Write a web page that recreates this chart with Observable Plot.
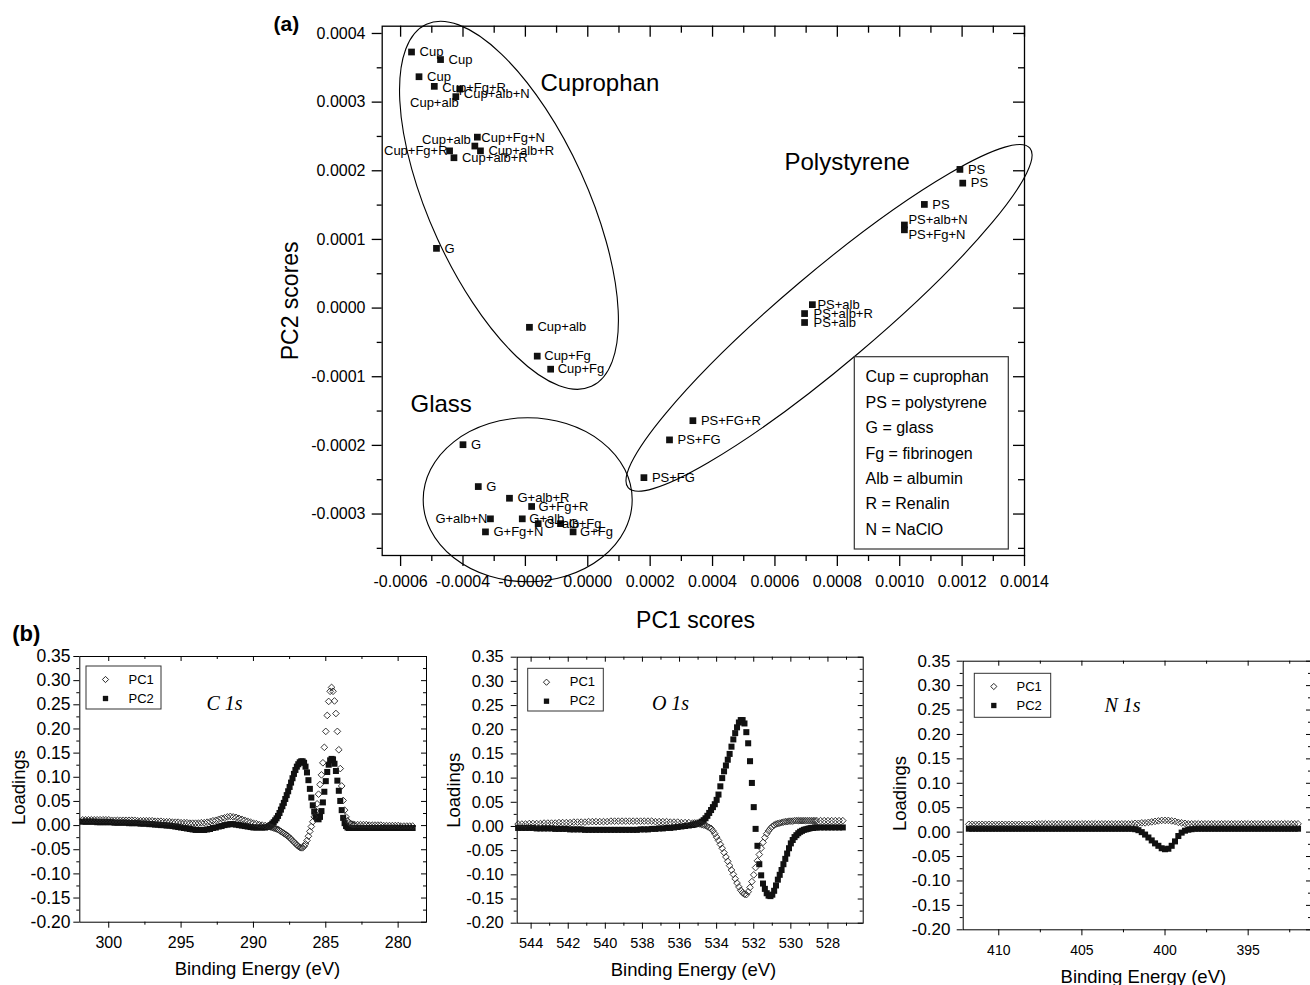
<!DOCTYPE html>
<html><head><meta charset="utf-8">
<script src="https://cdn.jsdelivr.net/npm/d3@7"></script>
<script src="https://cdn.jsdelivr.net/npm/@observablehq/plot@0.6"></script>
<style>
html,body{margin:0;padding:0;background:#fff;overflow:hidden;}
#fig{position:relative;width:1310px;height:985px;overflow:hidden;background:#fff;}
#fig svg{position:absolute;overflow:visible;}
</style></head><body><div id="fig"></div>
<script>
// ---------------- (a) PCA scores ----------------
const sampleLabels = ["Cup","Cup","Cup","Cup+Fg+R","Cup+alb+N","Cup+alb","Cup+Fg+N","Cup+alb","Cup+alb+R","Cup+Fg+R","Cup+alb+R","G","Cup+alb","Cup+Fg","Cup+Fg",
  "G","G","G+alb+R","G+Fg+R","G+alb+N","G+alb","G+alb","G+Fg","G+Fg","G+Fg+N",
  "PS","PS","PS","PS+alb+N","PS+Fg+N","PS+alb","PS+alb+R","PS+alb","PS+FG+R","PS+FG","PS+FG"];
const pc1Scores = [-0.000565,-0.000472,-0.000541,-0.000492,-0.000410,-0.000423,-0.000354,-0.000362,-0.000344,-0.000443,-0.000429,-0.000485,-0.000187,-0.000162,-0.000119,
  -0.000400,-0.000351,-0.000251,-0.000180,-0.000312,-0.000210,-0.000159,-0.000087,-0.000047,-0.000328,
  0.001193,0.001202,0.001079,0.001015,0.001015,0.000720,0.000695,0.000695,0.000337,0.000262,0.000180];
const pc2Scores = [0.000373,0.000362,0.000337,0.000323,0.000319,0.000308,0.000249,0.000236,0.000229,0.000229,0.000219,0.000087,-0.000028,-0.000070,-0.000089,
  -0.000199,-0.000260,-0.000277,-0.000289,-0.000307,-0.000307,-0.000314,-0.000314,-0.000326,-0.000326,
  0.000202,0.000182,0.000151,0.000121,0.000114,0.000005,-0.000008,-0.000021,-0.000164,-0.000192,-0.000247];
const clusterNames = ["Cuprophan","Polystyrene","Glass"];
const clusterCentrePC1 = [-0.000251, 0.000775, -0.000191];
const clusterCentrePC2 = [0.000149, -0.000015, -0.000280];
const abbreviations = ["Cup = cuprophan","PS = polystyrene","G = glass","Fg = fibrinogen","Alb = albumin","R = Renalin","N = NaClO"];
const pc1Ticks = [-0.0006,-0.0004,-0.0002,0,0.0002,0.0004,0.0006,0.0008,0.0010,0.0012,0.0014];
const pc1Minor = [-0.0005,-0.0003,-0.0001,0.0001,0.0003,0.0005,0.0007,0.0009,0.0011,0.0013];
const pc2Ticks = [-0.0003,-0.0002,-0.0001,0,0.0001,0.0002,0.0003,0.0004];
const pc2Minor = [-0.00035,-0.00025,-0.00015,-0.00005,0.00005,0.00015,0.00025,0.00035];

// ---------------- (b) loadings ----------------
const loadingTicks = [-0.20,-0.15,-0.10,-0.05,0,0.05,0.10,0.15,0.20,0.25,0.30,0.35];
const loadingMinor = [-0.175,-0.125,-0.075,-0.025,0.025,0.075,0.125,0.175,0.225,0.275,0.325];

const c1sEnergy = [...d3.range(301.8, 289.1, -0.2), ...d3.range(289.0, 282.95, -0.1), ...d3.range(282.8, 278.95, -0.2)];
const c1sPC1 = [
 .012,.012,.012,.012,.012,.012,.012,.012,.012,.012,
 .011,.011,.011,.011,.011,.011,.011,.011,.011,.010,
 .010,.010,.010,.010,.010,.009,.009,.009,.008,.008,
 .008,.007,.007,.007,.006,.006,.006,.005,.005,.005,
 .005,.006,.006,.007,.008,.010,.011,.013,.015,.016,
 .018,.019,.018,.017,.015,.013,.011,.009,.007,.005,
 .004,.002,.001,.000,
 -.001,-.002,-.003,-.004,-.005,-.006,-.007,-.008,-.010,-.012,
 -.014,-.016,-.018,-.020,-.022,-.025,-.028,-.031,-.034,-.037,
 -.040,-.043,-.045,-.046,-.046,-.043,-.038,-.031,-.022,-.012,
 -.002,.008,.018,.030,.045,.065,.085,.105,.130,.162,
 .195,.228,.257,.278,.286,.278,.258,.232,.195,.157,
 .118,.082,.052,.032,.018,.010,.006,.004,.003,.002,
 .002,
 .002,.002,.002,.002,.001,.001,.001,.001,.001,.000,
 .000,.000,.000,.000,.000,-.001,-.001,-.001,-.001,-.001];
const c1sPC2 = [
 .008,.008,.008,.008,.008,.007,.007,.007,.007,.007,
 .007,.006,.006,.006,.006,.006,.005,.005,.005,.005,
 .004,.004,.004,.003,.003,.002,.002,.001,.001,.000,
 .000,-.001,-.002,-.003,-.004,-.005,-.006,-.007,-.008,-.009,
 -.009,-.009,-.009,-.008,-.007,-.005,-.004,-.002,-.001,.001,
 .002,.003,.003,.002,.001,.000,-.001,-.002,-.003,-.004,
 -.004,-.004,-.004,-.004,
 -.003,-.001,.001,.004,.007,.011,.015,.020,.026,.033,
 .040,.047,.055,.063,.071,.080,.089,.098,.107,.115,
 .122,.127,.131,.133,.133,.130,.122,.110,.094,.076,
 .058,.042,.029,.019,.014,.013,.018,.030,.048,.070,
 .092,.111,.126,.135,.138,.137,.128,.113,.093,.072,
 .051,.032,.016,.005,-.001,-.004,-.005,-.005,-.005,-.005,
 -.005,
 -.005,-.005,-.005,-.005,-.005,-.005,-.005,-.005,-.005,-.005,
 -.005,-.005,-.005,-.005,-.005,-.005,-.005,-.005,-.005,-.005];

const o1sEnergy = [...d3.range(544.7, 535.2, -0.2), ...d3.range(535.2, 528.55, -0.1), ...d3.range(528.4, 527.1, -0.2)];
const o1sPC1 = [
 .005,.005,.005,.006,.006,.006,.006,.007,.007,.007,
 .007,.008,.008,.008,.008,.009,.009,.009,.009,.010,
 .010,.010,.010,.010,.010,.011,.011,.011,.011,.011,
 .011,.011,.011,.011,.011,.011,.011,.010,.010,.010,
 .010,.009,.009,.009,.008,.008,.008,.007,
 .007,.007,.006,.005,.004,.003,.002,.000,-.002,-.004,
 -.009,-.015,-.022,-.029,-.037,-.045,-.054,-.063,-.072,-.081,
 -.090,-.099,-.108,-.117,-.125,-.132,-.137,-.140,-.141,-.135,
 -.126,-.114,-.100,-.085,-.071,-.058,-.045,-.033,-.023,-.015,
 -.009,-.004,.000,.003,.005,.006,.007,.008,.009,.010,
 .010,.011,.011,.011,.012,.012,.012,.012,.012,.012,
 .012,.012,.012,.012,.012,.012,.012,
 .012,.012,.012,.012,.012,.012,.012];
const o1sPC2 = [
 -.003,-.003,-.003,-.003,-.003,-.004,-.004,-.004,-.004,-.004,
 -.005,-.005,-.005,-.005,-.006,-.006,-.006,-.006,-.007,-.007,
 -.007,-.007,-.007,-.007,-.007,-.007,-.007,-.007,-.007,-.007,
 -.007,-.007,-.007,-.006,-.006,-.006,-.005,-.005,-.004,-.004,
 -.003,-.003,-.002,-.001,.000,.001,.002,.003,
 .004,.005,.006,.008,.010,.013,.017,.022,.028,.034,
 .040,.046,.055,.066,.083,.100,.114,.126,.138,.150,
 .165,.180,.193,.205,.215,.220,.220,.213,.195,.172,
 .135,.090,.040,-.005,-.040,-.078,-.101,-.118,-.129,-.138,
 -.143,-.144,-.141,-.133,-.122,-.110,-.100,-.090,-.078,-.067,
 -.056,-.045,-.035,-.028,-.022,-.018,-.014,-.011,-.009,-.007,
 -.006,-.005,-.004,-.003,-.003,-.002,-.002,
 -.002,-.002,-.002,-.002,-.002,-.002,-.002];

const n1sEnergy = d3.range(411.8, 391.9, -0.2);
const n1sPC1 = [
 .016,.016,.016,.016,.016,.016,.016,.016,.016,.016,
 .016,.016,.016,.016,.016,.016,.016,.016,.016,.016,
 .017,.017,.017,.017,.017,.017,.017,.017,.017,.017,
 .017,.017,.017,.017,.017,.017,.017,.017,.017,.017,
 .017,.017,.017,.017,.017,.017,.017,.017,.017,
 .017,.018,.018,.019,.019,.020,.021,.022,.023,.024,
 .024,.024,.023,.022,.020,.019,.018,.017,.017,
 .017,.017,.017,.017,.017,.017,.017,.017,.017,.017,
 .017,.017,.017,.017,.017,.017,.017,.017,.017,.017,
 .017,.017,.017,.017,.017,.017,.017,.017,.017,.017,
 .017,.017];
const n1sPC2 = [
 .007,.007,.007,.007,.007,.007,.007,.007,.007,.007,
 .007,.007,.007,.007,.007,.007,.007,.007,.007,.007,
 .007,.007,.007,.007,.007,.007,.007,.007,.007,.007,
 .007,.007,.007,.007,.007,.007,.007,.007,.007,.007,
 .007,.007,.007,.007,.007,.007,.007,.007,.007,
 .007,.006,.004,.000,-.005,-.011,-.017,-.023,-.028,-.033,
 -.035,-.034,-.028,-.019,-.008,-.001,.003,.005,.006,
 .007,.007,.007,.007,.007,.007,.007,.007,.007,.007,
 .007,.007,.007,.007,.007,.007,.007,.007,.007,.007,
 .007,.007,.007,.007,.007,.007,.007,.007,.007,.007,
 .007,.007];

// ---------------- helpers ----------------
const SANS = "'Liberation Sans', Arial, Helvetica, sans-serif";
const SERIF = "'Liberation Serif', 'Times New Roman', serif";
const NS = "http://www.w3.org/2000/svg";
const fig = document.getElementById("fig");

function renderMark(draw) {
  return function (...args) {
    const scales = args.find(a => a && !Array.isArray(a) && typeof a.x === "function");
    const dims = args.find(a => a && typeof a === "object" && !Array.isArray(a) && "marginLeft" in a && "width" in a);
    const g = document.createElementNS(NS, "g");
    draw(g, scales, dims);
    return g;
  };
}
function el(tag, attrs) {
  const e = document.createElementNS(NS, tag);
  for (const k in attrs) e.setAttribute(k, attrs[k]);
  return e;
}
function place(svg, left, top) {
  svg.style.position = "absolute";
  svg.style.left = left + "px";
  svg.style.top = top + "px";
  fig.appendChild(svg);
}
function zip(E, V) {
  if (E.length !== V.length) console.error("length mismatch", E.length, V.length);
  const n = Math.min(E.length, V.length);
  return d3.range(n).map(i => ({e: E[i], v: V[i]}));
}
function ftext(str, o) {
  return Plot.text([str], Object.assign({frameAnchor: "top-left", text: d => d, fontFamily: SANS, fill: "black"}, o));
}

// ---------------- panel (a) ----------------
{
  const W = 800, H = 640, ml = 121.7, mr = 36, mt = 25.7, mb = 85;
  const fw = W - ml - mr, fh = H - mt - mb;
  const pts = sampleLabels.map((label, i) => ({label, pc1: pc1Scores[i], pc2: pc2Scores[i]}));
  // label placement [dx, dy, anchor]
  const labelPlacement = [
    [8,0],[8,0],[8,0],[8,1],[4,5],[3,6,"end"],[4,1],[-4,-6,"end"],[8,0],[-2,0,"end"],[8,0],[8,0],[8,0],[7,0],[7,0],
    [8,0],[8,0],[8,0],[7,0],[-3,0,"end"],[7,0],[6,0],[8,0],[7,0],[8,0],
    [8,0],[8,0],[8,0],[4,-5],[4,5],[5,0],[9,0],[9,0],[8,0],[8,0],[8,0]];
  const outlineShape = [[199, 79, 65.5], [263, 46, -40.2], [104.5, 82, 0]];
  const namePos = [[158.3, 57], [402.3, 136], [28.3, 378.3]];

  const marks = [
    renderMark((g, s) => {
      clusterNames.forEach((n, i) => {
        const [rx, ry, rot] = outlineShape[i];
        const cx = s.x(clusterCentrePC1[i]), cy = s.y(clusterCentrePC2[i]);
        g.appendChild(el("ellipse", {cx, cy, rx, ry, transform: `rotate(${rot} ${cx} ${cy})`, fill: "none", stroke: "black", "stroke-width": 1.1}));
      });
    }),
    Plot.frame({stroke: "black", strokeWidth: 1.3}),
    Plot.axisY(pc2Ticks, {anchor: "left", tickSize: 10, tickPadding: 6.7, strokeWidth: 1.3, fontSize: 16, tickFormat: d => d.toFixed(4), label: null, fontFamily: SANS}),
    Plot.axisY(pc2Minor, {anchor: "left", tickSize: 5, strokeWidth: 1.3, tickFormat: () => "", label: null}),
    Plot.axisX(pc1Ticks, {anchor: "bottom", tickSize: 11, tickPadding: 9.4, strokeWidth: 1.3, fontSize: 16, tickFormat: d => d.toFixed(4), label: null, fontFamily: SANS}),
    Plot.axisX(pc1Minor, {anchor: "bottom", tickSize: 6, strokeWidth: 1.3, tickFormat: () => "", label: null}),
    Plot.tickX(pc1Ticks, {x: d => d, insetBottom: fh - 11, stroke: "black", strokeWidth: 1.3}),
    Plot.tickX(pc1Minor, {x: d => d, insetBottom: fh - 7, stroke: "black", strokeWidth: 1.3}),
    Plot.tickY(pc2Ticks, {y: d => d, insetLeft: fw - 11, stroke: "black", strokeWidth: 1.3}),
    Plot.tickY(pc2Minor, {y: d => d, insetLeft: fw - 6, stroke: "black", strokeWidth: 1.3}),
    Plot.dot(pts, {x: "pc1", y: "pc2", symbol: "square", r: 3.8, fill: "#111", stroke: "none"}),
    ...pts.map((p, i) => {
      const [dx, dy, anchor] = labelPlacement[i];
      return Plot.text([p], {x: "pc1", y: "pc2", text: "label", dx, dy, textAnchor: anchor || "start", lineAnchor: "middle", fontSize: 13, fontFamily: SANS, fill: "black"});
    }),
    ...clusterNames.map((n, i) => ftext(n, {dx: namePos[i][0], dy: namePos[i][1], textAnchor: "start", lineAnchor: "middle", fontSize: 24})),
    renderMark((g, s, d) => {
      g.appendChild(el("rect", {x: d.marginLeft + 472.6, y: d.marginTop + 331, width: 154, height: 192.3, fill: "white", stroke: "#333", "stroke-width": 1.2}));
    }),
    ...abbreviations.map((t, i) => ftext(t, {dx: 483.3, dy: 351 + i * 25.4, textAnchor: "start", lineAnchor: "middle", fontSize: 16})),
    ftext("(a)", {dx: -108.7, dy: -2, textAnchor: "start", lineAnchor: "middle", fontSize: 21, fontWeight: "bold"}),
    ftext("PC1 scores", {frameAnchor: "bottom", dx: -7.85, dy: 65, textAnchor: "middle", lineAnchor: "middle", fontSize: 23}),
    ftext("PC2 scores", {frameAnchor: "left", dx: -91.7, dy: 10, rotate: -90, textAnchor: "middle", lineAnchor: "middle", fontSize: 23})
  ];
  const svg = Plot.plot({
    width: W, height: H, marginLeft: ml, marginRight: mr, marginTop: mt, marginBottom: mb,
    x: {domain: [-0.000659, 0.0014], axis: null},
    y: {domain: [-0.0003604, 0.0004106], axis: null},
    style: {background: "transparent", overflow: "visible", fontFamily: SANS, color: "black"},
    marks
  });
  place(svg, 260, 0);
}

// ---------------- panels (b) ----------------
function spectrum(c) {
  const fw = c.width - c.ml - c.mr, fh = c.height - c.mt - c.mb;
  const [bx, by, bw, bh] = c.box;
  const marks = [
    Plot.frame({stroke: "black", strokeWidth: 1}),
    Plot.axisY(loadingTicks, {anchor: "left", tickSize: 6, tickPadding: c.ypad, fontSize: c.yfont, tickFormat: d => d.toFixed(2), label: null, fontFamily: SANS}),
    Plot.axisY(loadingMinor, {anchor: "left", tickSize: 3, tickFormat: () => "", label: null}),
    Plot.axisX(c.xticks, {anchor: "bottom", tickSize: 6, tickPadding: c.xpad, fontSize: c.xfont, tickFormat: d => String(d), label: null, fontFamily: SANS}),
    Plot.axisX(c.xminor, {anchor: "bottom", tickSize: 3, tickFormat: () => "", label: null}),
    Plot.tickY(loadingTicks, {y: d => d, insetLeft: fw - 5, stroke: "black"}),
    Plot.tickY(loadingMinor, {y: d => d, insetLeft: fw - 3, stroke: "black"}),
    Plot.tickX(c.xticks, {x: d => d, insetBottom: fh - 5, stroke: "black"}),
    Plot.tickX(c.xminor, {x: d => d, insetBottom: fh - 3, stroke: "black"}),
    Plot.dot(zip(c.energy, c.pc2), {x: "e", y: "v", symbol: "square", r: 3.4, fill: "#111", stroke: "none"}),
    Plot.dot(zip(c.energy, c.pc1), {x: "e", y: "v", symbol: "diamond2", r: 3, fill: "none", stroke: "#222", strokeWidth: 0.9}),
    renderMark((g, s, d) => {
      g.appendChild(el("rect", {x: d.marginLeft + bx, y: d.marginTop + by, width: bw, height: bh, fill: "white", stroke: "#333", "stroke-width": 1}));
    }),
    Plot.dot([0], {frameAnchor: "top-left", dx: c.sym[0], dy: c.sym[1], symbol: "diamond2", r: 2.8, fill: "none", stroke: "#111", strokeWidth: 0.9}),
    Plot.dot([0], {frameAnchor: "top-left", dx: c.sym[0], dy: c.sym[2], symbol: "square", r: 3, fill: "#111", stroke: "none"}),
    ftext("PC1", {dx: c.sym[3], dy: c.sym[1], textAnchor: "start", lineAnchor: "middle", fontSize: 13}),
    ftext("PC2", {dx: c.sym[3], dy: c.sym[2], textAnchor: "start", lineAnchor: "middle", fontSize: 13}),
    ftext(c.name, {dx: c.namePos[0], dy: c.namePos[1], textAnchor: "middle", lineAnchor: "middle", fontSize: 20, fontFamily: SERIF, fontStyle: "italic"}),
    ftext("Loadings", {frameAnchor: "left", dx: c.lpos[0], dy: c.lpos[1], rotate: -90, textAnchor: "middle", lineAnchor: "middle", fontSize: 18.5}),
    ftext("Binding Energy (eV)", {frameAnchor: "bottom", dx: c.bpos[0], dy: c.bpos[1], textAnchor: "middle", lineAnchor: "middle", fontSize: 18.5})
  ];
  if (c.tag) marks.push(ftext(c.tag, {dx: -67.6, dy: -23, textAnchor: "start", lineAnchor: "middle", fontSize: 22, fontWeight: "bold"}));
  const svg = Plot.plot({
    width: c.width, height: c.height, marginLeft: c.ml, marginRight: c.mr, marginTop: c.mt, marginBottom: c.mb,
    x: {domain: c.xdomain, axis: null},
    y: {domain: [-0.2, 0.35], axis: null},
    style: {background: "transparent", overflow: "visible", fontFamily: SANS, color: "black"},
    marks
  });
  place(svg, c.left, c.top);
}

spectrum({
  name: "C 1s", tag: "(b)", left: 0, top: 615, width: 440, height: 370, ml: 79.3, mr: 14, mt: 41, mb: 63.3,
  xdomain: [302.0, 278.04], xticks: [300, 295, 290, 285, 280], xminor: [297.5, 292.5, 287.5, 282.5],
  energy: c1sEnergy, pc1: c1sPC1, pc2: c1sPC2,
  box: [6.7, 10, 75, 43], sym: [25.7, 23, 42, 48.7], namePos: [144.7, 47],
  yfont: 17.5, xfont: 16, ypad: 3.3, xpad: 8.4, lpos: [-61, -1.85], bpos: [4.3, 47.3]
});
spectrum({
  name: "O 1s", left: 440, top: 615, width: 440, height: 370, ml: 76.7, mr: 17.3, mt: 41.7, mb: 62.3,
  xdomain: [544.75, 526.1], xticks: [544, 542, 540, 538, 536, 534, 532, 530, 528], xminor: [543, 541, 539, 537, 535, 533, 531, 529, 527],
  energy: o1sEnergy, pc1: o1sPC1, pc2: o1sPC2,
  box: [11, 11.6, 75.6, 42.7], sym: [29.3, 25, 44, 52.6], namePos: [153.3, 46.6],
  yfont: 16.5, xfont: 14.5, ypad: 7.4, xpad: 9, lpos: [-63.4, 0], bpos: [3.3, 47.3]
});
spectrum({
  name: "N 1s", left: 880, top: 615, width: 432, height: 370, ml: 82.7, mr: 1, mt: 45.7, mb: 55.7,
  xdomain: [412.14, 391.19], xticks: [410, 405, 400, 395], xminor: [407.5, 402.5, 397.5, 392.5],
  energy: n1sEnergy, pc1: n1sPC1, pc2: n1sPC2,
  box: [11.6, 12.6, 76.4, 44], sym: [30.6, 25.3, 44.3, 53.3], namePos: [159.3, 44.3],
  yfont: 17, xfont: 14, ypad: 6.7, xpad: 9, lpos: [-62.7, -2], bpos: [6, 47.4]
});
</script></body></html>
